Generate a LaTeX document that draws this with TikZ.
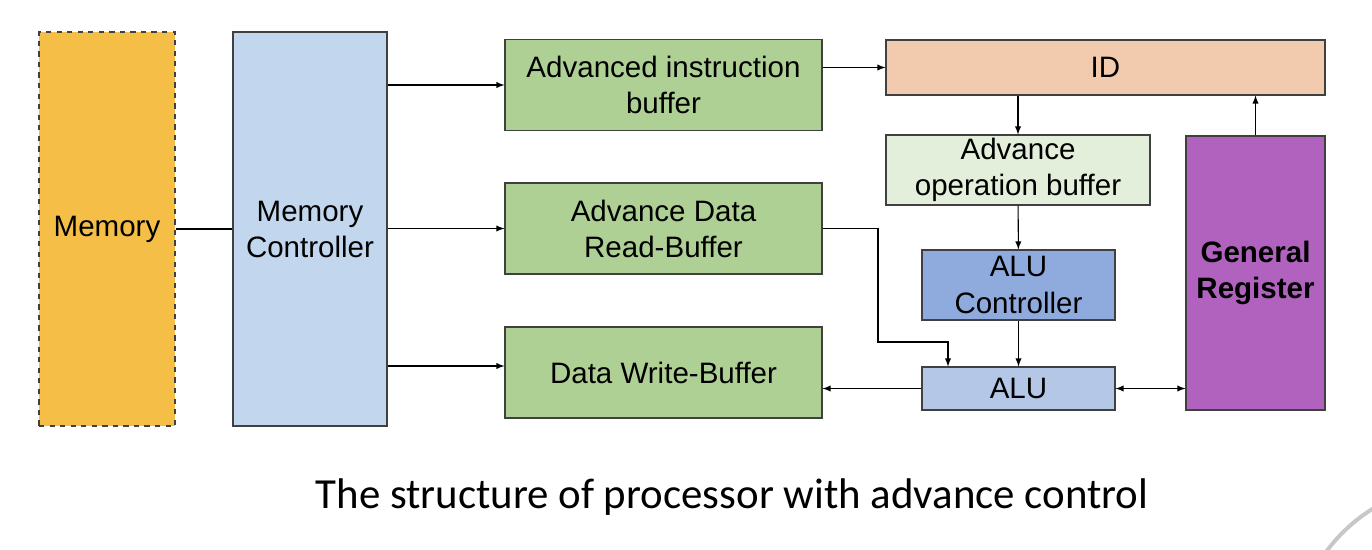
\documentclass[tikz,border=0pt]{standalone}
\usepackage{fontspec}
\setmainfont{Liberation Sans}
\newfontfamily\captionfont{Carlito}
\usetikzlibrary{calc, positioning}

\definecolor{memcol}{HTML}{F5BF47}
\definecolor{mccol}{HTML}{C2D7EE}
\definecolor{bufcol}{HTML}{AFD095}
\definecolor{idcol}{HTML}{F2CBAE}
\definecolor{aobcol}{HTML}{E3EFDA}
\definecolor{aluccol}{HTML}{8FAADC}
\definecolor{alucol}{HTML}{B4C7E7}
\definecolor{grcol}{HTML}{B062BE}

\begin{document}
\begin{tikzpicture}[>=latex, line width=0.6pt,
    blk/.style={draw=black!75, rectangle, align=center, inner sep=0pt,
        font=\fontsize{16.8}{20.5}\selectfont},
    bufblk/.style={blk, fill=bufcol, minimum width=6.34cm, minimum height=1.82cm}]

            \useasboundingbox (0,0) rectangle (27.44,-11);

            % Draw the memory and the memory controller
            \node[blk, dashed, fill=memcol, minimum width=2.72cm, minimum height=7.88cm] (mem) at (2.14,-4.58) {Memory};
            \node[blk, fill=mccol, minimum width=3.08cm, minimum height=7.88cm] (mc) at (6.2,-4.58) {Memory\\Controller};

            % Draw the buffers
            \node[bufblk] (aib) at (13.27,-1.7) {Advanced instruction\\buffer};
            \node[bufblk] (adrb) at (13.27,-4.57) {Advance Data\\Read-Buffer};
            \node[bufblk] (dwb) at (13.27,-7.45) {Data Write-Buffer};

            % Draw the decoder and the ALU part
            \node[blk, fill=idcol, minimum width=8.78cm, minimum height=1.1cm] (id) at (22.11,-1.35) {ID};
            \node[blk, fill=aobcol, minimum width=5.28cm, minimum height=1.4cm] (aob) at (20.36,-3.4) {Advance\\operation buffer};
            \node[blk, fill=aluccol, minimum width=3.86cm, minimum height=1.4cm] (aluc) at (20.37,-5.7) {ALU\\Controller};
            \node[blk, fill=alucol, minimum width=3.86cm, minimum height=0.86cm] (alu) at (20.37,-7.77) {ALU};
            \node[blk, fill=grcol, minimum width=2.78cm, minimum height=5.48cm, font=\fontsize{16.8}{20.5}\selectfont\bfseries] (gr) at (25.11,-5.46) {General\\Register};

            % Draw the caption
            \node[font=\captionfont\fontsize{24.4}{28}\selectfont] (cap) at (14.64,-9.94) {The structure of processor with advance control};

            % Bend points of the read-buffer line
            \coordinate (rd) at (17.56,-6.84);
            \coordinate (ai) at (18.96,-6.84);

            % Arrows from the memory controller
            \draw (mem) -- (mc);
            \draw[->] (mc.east |- aib) -- (aib);
            \draw[->] (mc.east |- adrb) -- (adrb);
            \draw[->] (mc.east |- 0,-7.32) -- (dwb.west |- 0,-7.32);

            % Arrows of the decoder and the ALU
            \draw[->] (aib.east |- id) -- (id);
            \draw[->] (id.south -| aob) -- (aob);
            \draw[->] (aob) -- (aluc);
            \draw[->] (aluc) -- (alu);
            \draw[->] (adrb.east) -| (rd) -- (ai) -- (ai |- alu.north);
            \draw[->] (alu) -- (dwb.east |- alu);
            \draw[<->] (alu) -- (gr.west |- alu);
            \draw[->] (gr.north) -- (id.south -| gr.north);

            % Gray arc in the corner
            \begin{scope}
                \clip (0,0) rectangle (27.44,-11);
                \draw[line width=0.08cm, black!22] (29.2,-13) circle (3.32);
            \end{scope}

        \end{tikzpicture}
\end{document}
